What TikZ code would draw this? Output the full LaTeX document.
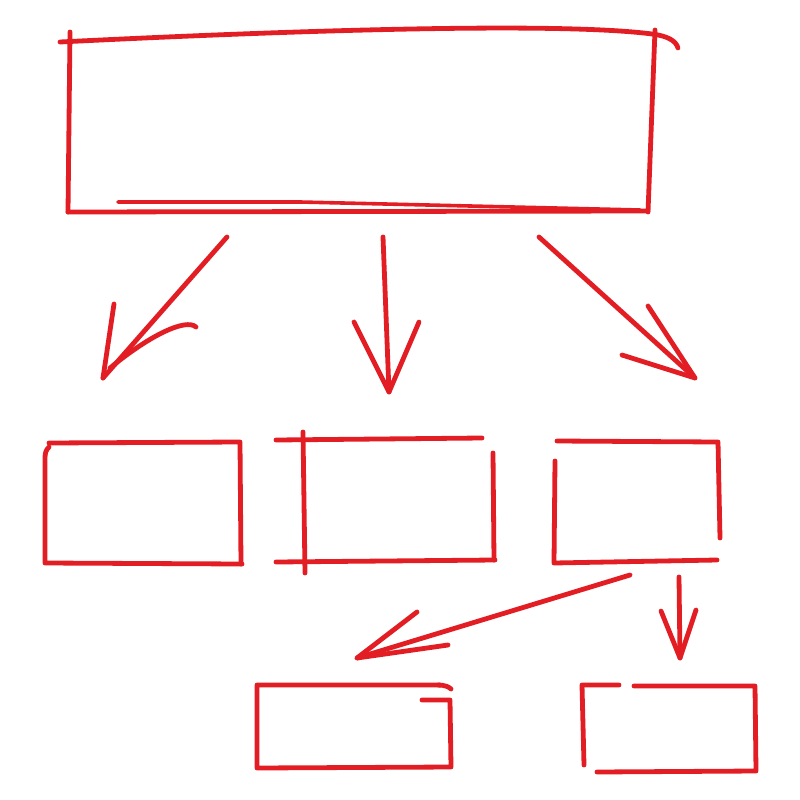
\documentclass[tikz,border=0pt]{standalone}
\definecolor{pen}{RGB}{226,30,36}
\tikzset{
  stroke/.style={draw=pen, line width=4.8pt, line cap=round, line join=round},
  thin stroke/.style={stroke, line width=3.6pt}
}
\begin{document}
\begin{tikzpicture}[x=1pt,y=-1pt]
\useasboundingbox[fill=white] (0,0) rectangle (800,800);
% ---- top box ----
\draw[stroke] (60,42) .. controls (300,30) and (560,22) .. (652,34) .. controls (668,36) and (676,41) .. (678,48);
\draw[stroke] (70,32) -- (68,212);
\draw[stroke] (655,30) -- (648,212);
\draw[stroke] (68,212) -- (648,211);
\draw[thin stroke] (118,202) -- (300,202) -- (640,210);
% ---- arrows from top box ----
\coordinate (a1s) at (227,237); \coordinate (a1e) at (103,378);
\coordinate (a1b) at (114,304); \coordinate (a1c) at (196,327);
\draw[stroke] (a1s) -- (a1e);
\draw[stroke] (a1b) -- (a1e);
\draw[stroke] (a1c) .. controls (186,318) and (150,335) .. (110,368);
\coordinate (a2s) at (383,237); \coordinate (a2e) at (389,392);
\coordinate (a2l) at (354,322); \coordinate (a2r) at (419,322);
\draw[stroke] (a2s) -- (a2e);
\draw[stroke] (a2l) -- (a2e) -- (a2r);
\coordinate (a3s) at (539,237); \coordinate (a3e) at (695,378);
\coordinate (a3u) at (648,306); \coordinate (a3d) at (622,355);
\draw[stroke] (a3s) -- (a3e);
\draw[stroke] (a3u) -- (a3e) -- (a3d);
% ---- box A ----
\draw[stroke] (49,443) -- (240,442) -- (241,564);
\draw[stroke] (49,447) .. controls (46,450) and (45,453) .. (45,458) -- (45,563) -- (242,564);
% ---- box B ----
\draw[stroke] (276,440) -- (482,438);
\draw[stroke] (303,432) -- (305,573);
\draw[stroke] (276,562) -- (495,560);
\draw[stroke] (493,453) -- (494,560);
% ---- box C ----
\draw[stroke] (557,441) -- (718,442) -- (720,538);
\draw[stroke] (555,461) -- (554,563) -- (717,560);
% ---- lower arrows ----
\coordinate (a4s) at (630,575); \coordinate (a4e) at (357,658);
\coordinate (a4u) at (417,612); \coordinate (a4d) at (448,645);
\draw[stroke] (a4s) -- (a4e);
\draw[stroke] (a4u) -- (a4e) -- (a4d);
\coordinate (a5s) at (679,577); \coordinate (a5e) at (680,658);
\coordinate (a5l) at (661,611); \coordinate (a5r) at (696,610);
\draw[stroke] (a5s) -- (a5e);
\draw[stroke] (a5l) -- (a5e) -- (a5r);
% ---- box D ----
\draw[stroke] (440,685) -- (257,685) -- (257,768) -- (451,767) -- (450,700) -- (422,700);
\draw[stroke] (438,685) .. controls (445,685) and (449,687) .. (451,689);
% ---- box E ----
\draw[stroke] (619,685) -- (582,685) -- (584,765);
\draw[stroke] (634,686) -- (755,686) -- (756,771) -- (597,772);
\end{tikzpicture}
\end{document}
